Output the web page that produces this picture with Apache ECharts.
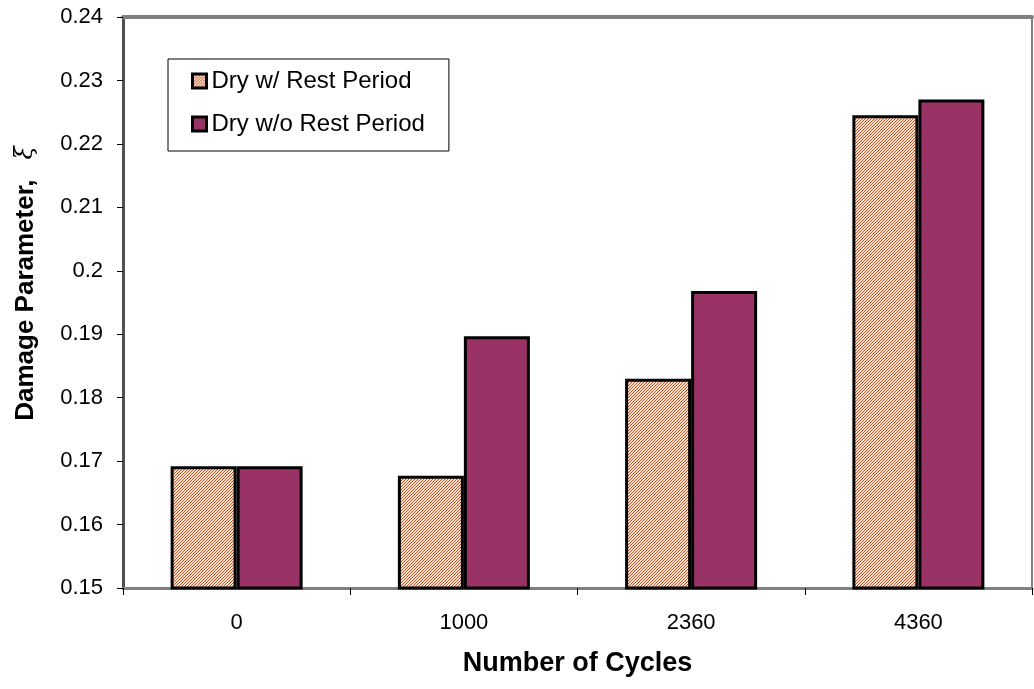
<!DOCTYPE html>
<html>
<head>
<meta charset="utf-8">
<script src="https://cdn.jsdelivr.net/npm/echarts@6/dist/echarts.min.js"></script>
<style>html,body{margin:0;padding:0;background:#fff}#c{width:1034px;height:689px}</style>
</head>
<body>
<div id="c"></div>
<script>
const categories = ['0', '1000', '2360', '4360'];
const withRest = [0.1692, 0.1677, 0.1830, 0.2245];
const withoutRest = [0.1692, 0.1897, 0.1968, 0.2270];
const seriesNames = ['Dry w/ Rest Period', 'Dry w/o Rest Period'];

function hatch() {
  const c = document.createElement('canvas');
  c.width = 3; c.height = 3;
  const g = c.getContext('2d');
  g.fillStyle = '#F7E2D2';
  g.fillRect(0, 0, 3, 3);
  g.fillStyle = '#C4511E';
  g.fillRect(2, 0, 1, 1);
  g.fillRect(1, 1, 1, 1);
  g.fillRect(0, 2, 1, 1);
  return c;
}

const chart = echarts.init(document.getElementById('c'), null, {renderer: 'canvas'});
const font = 'Arial, "Liberation Sans", sans-serif';
chart.setOption({
  animation: false,
  backgroundColor: '#fff',
  grid: {left: 123, top: 17, right: 2, bottom: 101, show: true, borderColor: '#808080', borderWidth: 2},
  legend: {
    orient: 'vertical', left: 168, top: 59,
    padding: [10, 24, 15, 23],
    itemGap: 19, itemWidth: 14, itemHeight: 14,
    backgroundColor: '#fff', borderColor: '#000', borderWidth: 1, borderRadius: 0,
    textStyle: {fontFamily: font, fontSize: 24, color: '#000'},
    data: [
      {name: seriesNames[0], icon: 'rect', itemStyle: {borderColor: '#000', borderWidth: 3}},
      {name: seriesNames[1], icon: 'rect', itemStyle: {borderColor: '#000', borderWidth: 3}}
    ]
  },
  xAxis: [{
    type: 'category', data: categories, boundaryGap: true,
    axisLine: {lineStyle: {color: '#808080', width: 3}},
    axisTick: {show: true, length: 7, alignWithLabel: false, lineStyle: {color: '#000'}},
    axisLabel: {fontFamily: font, fontSize: 22, color: '#000', margin: 24},
    name: 'Number of Cycles', nameLocation: 'middle', nameGap: 62,
    nameTextStyle: {fontFamily: font, fontSize: 27, fontWeight: 'bold', color: '#000'}
  }, {
    type: 'category', data: categories, position: 'top',
    axisLine: {lineStyle: {color: '#808080', width: 4}},
    axisTick: {show: false}, axisLabel: {show: false}
  }],
  yAxis: {
    type: 'value', min: 0.15, max: 0.24, interval: 0.01,
    axisLine: {show: true, lineStyle: {color: '#505050', width: 3}},
    axisTick: {show: true, length: 6, lineStyle: {color: '#000'}},
    splitLine: {show: false},
    axisLabel: {fontFamily: font, fontSize: 22, color: '#000', margin: 20,
      formatter: v => String(Math.round(v * 100) / 100)},
    name: '{a|Damage Parameter,}{b|ξ}', nameLocation: 'middle', nameGap: 84,
    nameTextStyle: {
      fontFamily: font, fontSize: 26, fontWeight: 'bold', color: '#000',
      padding: [0, 0, 0, 38],
      rich: {
        a: {fontFamily: font, fontSize: 26, fontWeight: 'bold', color: '#000'},
        b: {fontFamily: '"DejaVu Serif", serif', fontSize: 24, fontStyle: 'italic', fontWeight: 'normal', color: '#000', padding: [0, 0, 0, 20]}
      }
    }
  },
  series: [{
    name: seriesNames[0], type: 'bar', data: withRest,
    barWidth: 66, barGap: '0%',
    itemStyle: {color: {image: hatch(), repeat: 'repeat'}, borderColor: '#000', borderWidth: 3}
  }, {
    name: seriesNames[1], type: 'bar', data: withoutRest,
    barWidth: 66, barGap: '0%',
    itemStyle: {color: '#993366', borderColor: '#000', borderWidth: 3}
  }]
});
</script>
</body>
</html>
